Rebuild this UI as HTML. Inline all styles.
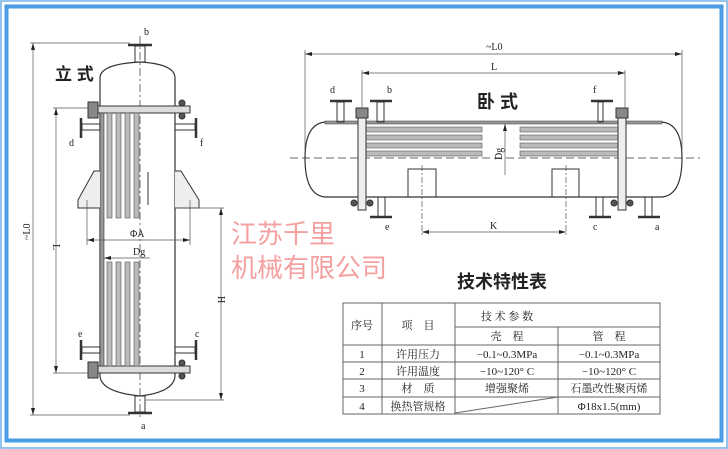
<!DOCTYPE html>
<html><head><meta charset="utf-8"><style>
html,body{margin:0;padding:0;background:#fff;}
svg{display:block;}
text{font-family:"Liberation Serif","Noto Serif CJK SC",serif;fill:#222;}
.cj{font-family:"Liberation Sans","Noto Sans CJK SC",sans-serif;}
</style></head><body>
<svg width="728" height="449" viewBox="0 0 728 449" xmlns="http://www.w3.org/2000/svg">
<rect x="1" y="1" width="726" height="447" fill="none" stroke="#6fb0e8" stroke-width="1.5"/>
<rect x="6.5" y="6.5" width="715" height="434" fill="none" stroke="#4a9de3" stroke-width="4"/>

<g stroke="#333" fill="none" stroke-width="1">
<path d="M100 375 L100 78 Q100 64 140 62 Q175 64 175 78 L175 375 Q175 392 140 396 Q100 392 100 375Z" stroke-width="1.2"/>
<line x1="140" y1="36" x2="140" y2="420" stroke-dasharray="8,3,2,3" stroke-width="0.7"/>
<rect x="135" y="46" width="10" height="16"/>
<line x1="128" y1="45" x2="152" y2="45" stroke-width="2.5"/>
<rect x="135" y="396" width="10" height="16"/>
<line x1="128" y1="413" x2="152" y2="413" stroke-width="2.5"/>
<rect x="88" y="106" width="102" height="7" fill="#ddd"/>
<rect x="88" y="366" width="102" height="7" fill="#ddd"/>
<rect x="88" y="102" width="10" height="16" fill="#888"/>
<rect x="88" y="362" width="10" height="16" fill="#888"/>
<circle cx="182" cy="103" r="3" fill="#555"/><circle cx="182" cy="116" r="3" fill="#555"/>
<circle cx="182" cy="363" r="3" fill="#555"/><circle cx="182" cy="376" r="3" fill="#555"/>
<rect x="100" y="113" width="4" height="253" fill="#999" stroke-width="0.6"/>
<g fill="#bbb" stroke="#555" stroke-width="0.6">
<rect x="107" y="113" width="5" height="105"/><rect x="116" y="113" width="5" height="105"/>
<rect x="125" y="113" width="5" height="105"/><rect x="134" y="113" width="5" height="105"/>
<rect x="107" y="262" width="5" height="104"/><rect x="116" y="262" width="5" height="104"/>
<rect x="125" y="262" width="5" height="104"/><rect x="134" y="262" width="5" height="104"/>
</g>
<rect x="82" y="124" width="18" height="6"/><line x1="81" y1="118" x2="81" y2="138" stroke-width="2.5"/>
<rect x="175" y="124" width="20" height="6"/><line x1="196" y1="118" x2="196" y2="138" stroke-width="2.5"/>
<rect x="82" y="347" width="18" height="6"/><line x1="81" y1="340" x2="81" y2="360" stroke-width="2.5"/>
<rect x="175" y="347" width="20" height="6"/><line x1="196" y1="340" x2="196" y2="360" stroke-width="2.5"/>
<path d="M100 171 L94 171 L78 200 L78 208 L100 208" fill="#eee"/>
<path d="M175 171 L181 171 L199 200 L199 208 L175 208" fill="#eee"/>
<line x1="148" y1="172" x2="148" y2="205"/>
<g stroke-width="0.7" stroke="#555">
<line x1="33" y1="43" x2="33" y2="415"/><line x1="30" y1="43" x2="130" y2="43"/><line x1="30" y1="415" x2="130" y2="415"/>
<line x1="56" y1="108" x2="56" y2="373"/><line x1="53" y1="108" x2="88" y2="108"/><line x1="53" y1="373" x2="88" y2="373"/>
<line x1="221" y1="208" x2="221" y2="400"/><line x1="176" y1="208" x2="224" y2="208"/><line x1="146" y1="400" x2="224" y2="400"/>
<line x1="87" y1="240" x2="190" y2="240"/><line x1="87" y1="200" x2="87" y2="245"/><line x1="190" y1="200" x2="190" y2="245"/>
<line x1="104" y1="258" x2="150" y2="258"/>
</g>
</g>
<g fill="#222">
<path d="M33 43 l-2 7 h4z M33 415 l-2 -7 h4z M56 108 l-2 7 h4z M56 373 l-2 -7 h4z M221 208 l-2 7 h4z M221 400 l-2 -7 h4z M87 240 l7 -2 v4z M190 240 l-7 -2 v4z M104 258 l7 -2 v4z"/>
</g>
<text x="144" y="35" font-size="10">b</text>
<text x="141" y="429" font-size="10">a</text>
<text x="69" y="146" font-size="10">d</text>
<text x="200" y="146" font-size="10">f</text>
<text x="78" y="337" font-size="10">e</text>
<text x="195" y="337" font-size="10">c</text>
<text x="130" y="237" font-size="10">ΦA</text>
<text x="133" y="255" font-size="10">Dg</text>
<text x="0" y="0" font-size="10" transform="translate(30,240) rotate(-90)">~L0</text>
<text x="0" y="0" font-size="10" transform="translate(53,244) rotate(90)">L</text>
<text x="0" y="0" font-size="10" transform="translate(218,296) rotate(90)">H</text>
<text x="55" y="80" font-size="17" font-weight="bold" class="cj">立 式</text>

<g stroke="#333" fill="none" stroke-width="1">
<path d="M325 122 L662 122 Q682 124 682 158 Q682 195 662 197 L325 197 Q305 195 305 158 Q305 124 325 122Z" stroke-width="1.2"/>
<rect x="325" y="121" width="337" height="3" fill="#999" stroke-width="0.5"/>
<line x1="290" y1="158" x2="700" y2="158" stroke-dasharray="8,4" stroke-width="0.7"/>
<g fill="#bbb" stroke="#555" stroke-width="0.6">
<rect x="362" y="127" width="120" height="5"/><rect x="362" y="135" width="120" height="5"/><rect x="362" y="143" width="120" height="5"/><rect x="362" y="151" width="120" height="5"/>
<rect x="520" y="127" width="102" height="5"/><rect x="520" y="135" width="102" height="5"/><rect x="520" y="143" width="102" height="5"/><rect x="520" y="151" width="102" height="5"/>
</g>
<rect x="358" y="115" width="8" height="95" fill="#eee"/>
<rect x="618" y="115" width="8" height="95" fill="#eee"/>
<rect x="356" y="108" width="12" height="10" fill="#888"/>
<rect x="616" y="108" width="12" height="10" fill="#888"/>
<circle cx="354" cy="203" r="3" fill="#555"/><circle cx="370" cy="203" r="3" fill="#555"/>
<circle cx="614" cy="203" r="3" fill="#555"/><circle cx="630" cy="203" r="3" fill="#555"/>
<rect x="408" y="169" width="28" height="28"/>
<rect x="552" y="169" width="27" height="28"/>
<line x1="422" y1="165" x2="422" y2="235" stroke-dasharray="6,2,2,2" stroke-width="0.6"/>
<line x1="566" y1="165" x2="566" y2="235" stroke-dasharray="6,2,2,2" stroke-width="0.6"/>
<rect x="337" y="102" width="7" height="20"/><line x1="330" y1="101" x2="352" y2="101" stroke-width="2.5"/>
<rect x="377" y="102" width="7" height="20"/><line x1="370" y1="101" x2="392" y2="101" stroke-width="2.5"/>
<rect x="598" y="102" width="5" height="20"/><line x1="591" y1="101" x2="613" y2="101" stroke-width="2.5"/>
<rect x="378" y="197" width="7" height="20"/><line x1="370" y1="217" x2="392" y2="217" stroke-width="2.5"/>
<rect x="596" y="197" width="7" height="20"/><line x1="589" y1="217" x2="611" y2="217" stroke-width="2.5"/>
<rect x="645" y="197" width="7" height="20"/><line x1="638" y1="217" x2="660" y2="217" stroke-width="2.5"/>
<g stroke-width="0.7" stroke="#555">
<line x1="305" y1="54" x2="682" y2="54"/><line x1="305" y1="50" x2="305" y2="150"/><line x1="682" y1="50" x2="682" y2="150"/>
<line x1="362" y1="73" x2="625" y2="73"/><line x1="362" y1="70" x2="362" y2="108"/><line x1="625" y1="70" x2="625" y2="108"/>
<line x1="422" y1="232" x2="566" y2="232"/>
<line x1="505" y1="124" x2="505" y2="175"/>
</g>
</g>
<g fill="#222">
<path d="M305 54 l7 -2 v4z M682 54 l-7 -2 v4z M362 73 l7 -2 v4z M625 73 l-7 -2 v4z M422 232 l7 -2 v4z M566 232 l-7 -2 v4z M505 124 l-2 7 h4z"/>
</g>
<text x="486" y="50" font-size="10">~L0</text>
<text x="491" y="70" font-size="10">L</text>
<text x="490" y="229" font-size="10">K</text>
<text x="0" y="0" font-size="10" transform="translate(502,160) rotate(-90)">Dg</text>
<text x="330" y="93" font-size="10">d</text>
<text x="387" y="93" font-size="10">b</text>
<text x="593" y="93" font-size="10">f</text>
<text x="385" y="230" font-size="10">e</text>
<text x="593" y="230" font-size="10">c</text>
<text x="655" y="230" font-size="10">a</text>
<text x="477" y="108" font-size="18" font-weight="bold" class="cj">卧 式</text>

<text x="231" y="243" font-size="26" class="cj" style="fill:#f4a0a0">江苏千里</text>
<text x="231" y="277" font-size="26" class="cj" style="fill:#f4a0a0">机械有限公司</text>

<text x="502" y="288" font-size="18" font-weight="bold" text-anchor="middle" class="cj">技术特性表</text>
<g stroke="#666" stroke-width="1" fill="none">
<rect x="343" y="303" width="317" height="111"/>
<line x1="382" y1="303" x2="382" y2="414"/>
<line x1="455" y1="303" x2="455" y2="414"/>
<line x1="558" y1="327" x2="558" y2="414"/>
<line x1="455" y1="327" x2="660" y2="327"/>
<line x1="343" y1="345" x2="660" y2="345"/>
<line x1="343" y1="362" x2="660" y2="362"/>
<line x1="343" y1="379" x2="660" y2="379"/>
<line x1="343" y1="397" x2="660" y2="397"/>
<line x1="455" y1="413" x2="558" y2="397"/>
</g>
<g font-size="11" text-anchor="middle">
<text x="362" y="329">序号</text>
<text x="418" y="329">项　目</text>
<text x="507" y="320">技 术 参 数</text>
<text x="507" y="340">壳　程</text>
<text x="609" y="340">管　程</text>
<text x="362" y="358">1</text><text x="418" y="358">许用压力</text><text x="507" y="358">−0.1~0.3MPa</text><text x="609" y="358">−0.1~0.3MPa</text>
<text x="362" y="375">2</text><text x="418" y="375">许用温度</text><text x="507" y="375">−10~120° C</text><text x="609" y="375">−10~120° C</text>
<text x="362" y="392">3</text><text x="418" y="392">材　质</text><text x="507" y="392">增强聚烯</text><text x="609" y="392">石墨改性聚丙烯</text>
<text x="362" y="410">4</text><text x="418" y="410">换热管规格</text><text x="609" y="410">Φ18x1.5(mm)</text>
</g>
</svg>
</body></html>
